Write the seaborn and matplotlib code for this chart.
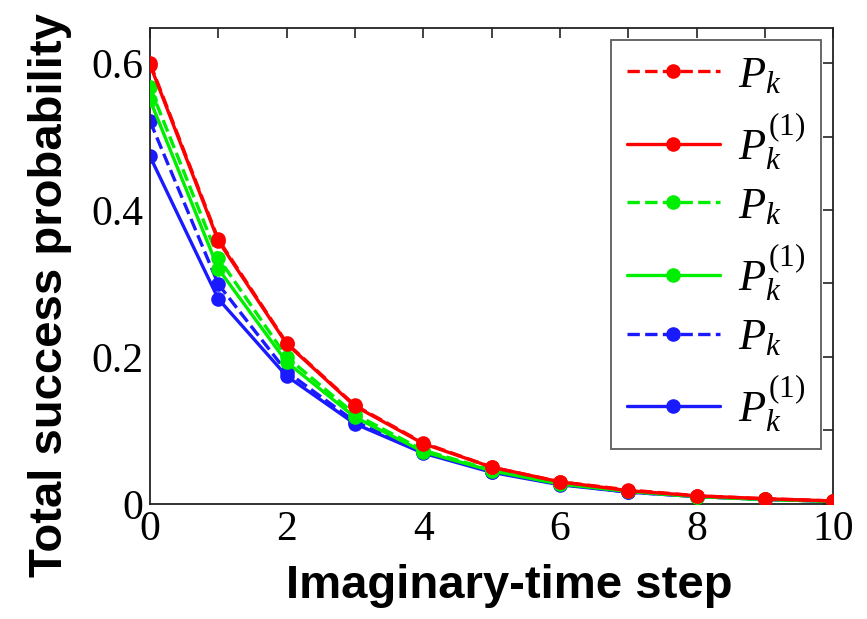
import numpy as np
import pandas as pd
import matplotlib
matplotlib.use("Agg")
import matplotlib.pyplot as plt
import seaborn as sns

steps = [0, 1, 2, 3, 4, 5, 6, 7, 8, 9, 10]
red_pk = [0.600, 0.360, 0.219, 0.134, 0.083, 0.050, 0.030, 0.019, 0.011, 0.007, 0.004]
red_pk1 = [0.598, 0.358, 0.218, 0.133, 0.082, 0.050, 0.030, 0.018, 0.011, 0.007, 0.004]
green_pk = [0.567, 0.335, 0.200, 0.122, 0.073, 0.046, 0.028, 0.017, 0.010, 0.006, 0.0035]
green_pk1 = [0.550, 0.320, 0.193, 0.118, 0.071, 0.045, 0.027, 0.017, 0.010, 0.006, 0.0035]
blue_pk = [0.521, 0.299, 0.180, 0.112, 0.070, 0.044, 0.027, 0.016, 0.010, 0.006, 0.0035]
blue_pk1 = [0.473, 0.279, 0.174, 0.109, 0.069, 0.043, 0.026, 0.016, 0.010, 0.006, 0.0035]
labels = [r"$P_k$", r"$P_k^{(1)}$"] * 3
xtick_labels = ["0", "", "2", "", "4", "", "6", "", "8", "", "10"]
ytick_labels = ["0", "", "0.2", "", "0.4", "", "0.6"]

sns.set_theme(style="white")
plt.rcParams["font.family"] = ["Liberation Serif", "DejaVu Serif"]
plt.rcParams["mathtext.fontset"] = "custom"
plt.rcParams["mathtext.it"] = "Liberation Serif:italic"
plt.rcParams["mathtext.rm"] = "Liberation Serif"
plt.rcParams["text.color"] = "black"
plt.rcParams["axes.labelcolor"] = "black"

fig = plt.figure(figsize=(8.67, 6.19), dpi=100)
ax = fig.add_axes([0.173, 0.186, 0.788, 0.769])

series = [
    (red_pk, "red", "--", 5),
    (red_pk1, "red", "-", 6),
    (green_pk, "#00ee00", "--", 3),
    (green_pk1, "#00ee00", "-", 4),
    (blue_pk, "#1a1aff", "--", 1),
    (blue_pk1, "#1a1aff", "-", 2),
]
handles = []
for (vals, col, ls, z), lab in zip(series, labels):
    df = pd.DataFrame({"step": steps, "p": vals})
    kw = dict(dashes=(4, 2.5)) if ls == "--" else {}
    sns.lineplot(data=df, x="step", y="p", ax=ax, color=col, linestyle=ls,
                 marker="o", markersize=10.5, markeredgewidth=0, linewidth=2.4,
                 zorder=z, label=lab, legend=False, **kw)
    handles.append(ax.lines[-1])

ax.set_xlim(0, 10)
ax.set_ylim(0, 0.648)
ax.set_xticks(steps)
ax.set_xticklabels(xtick_labels)
ax.set_yticks([0, 0.1, 0.2, 0.3, 0.4, 0.5, 0.6])
ax.set_yticklabels(ytick_labels)
ax.tick_params(direction="in", top=True, right=True, length=7, width=1.2,
               labelsize=30, pad=5, colors="#222222", labelcolor="black")
for s in ax.spines.values():
    s.set_color("#222222")
    s.set_linewidth(1.3)
    s.set_visible(True)

ax.set_xlabel("Imaginary-time step", fontsize=34, fontweight="bold",
              family="Liberation Sans", color="black")
ax.set_ylabel("Total success probability", fontsize=34, fontweight="bold",
              family="Liberation Sans", color="black")
ax.xaxis.set_label_coords(0.526, -0.126)
ax.yaxis.set_label_coords(-0.114, 0.439)

leg = ax.legend(handles=handles, labels=labels, loc="upper right", fontsize=32,
                frameon=True, fancybox=False, edgecolor="#333333",
                handlelength=2.1, labelspacing=0.34, borderaxespad=0.28,
                handletextpad=0.4, borderpad=0.35)
leg.get_frame().set_linewidth(1.3)

fig.savefig("out.png", dpi=100)
